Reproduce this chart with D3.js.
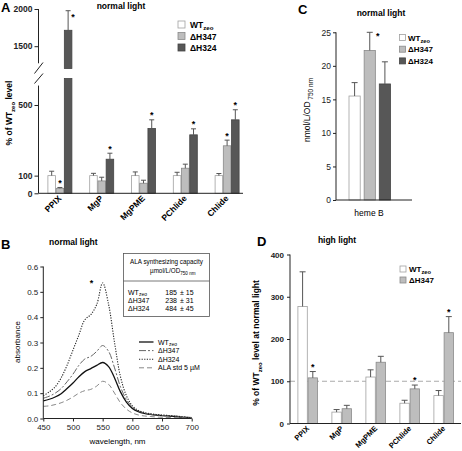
<!DOCTYPE html>
<html><head><meta charset="utf-8">
<script src="https://cdn.jsdelivr.net/npm/d3@7"></script>
<style>
body{margin:0;background:#fff}
svg{font-family:"Liberation Sans",Arial,Helvetica,sans-serif}
</style>
</head><body>
<svg id="fig" width="462" height="451"></svg>
<script>
// ---------- DATA ----------
const pigments = ["PPIX","MgP","MgPME","PChlide","Chlide"];
const strains = ["WT","ΔH347","ΔH324"];
// Panel A: % of WTzeo level, normal light
const aWT      = [100,100,100,100,100];
const aWTErr   = [25,13,21,19,12];
const aH347    = [28,70,57,142,269];
const aH347Err = [5,21,17,23,32];
const aH324    = [1714,193,367,331,416];
const aH324Err = [263,34,49,34,57];
const aH347Sig = [true,false,false,false,true];
const aH324Sig = [true,true,true,true,true];
const aTicksLow = [0,100,500];
const aTicksHigh = [1500,2000];
// Panel C: heme B nmol/L/OD750
const cCategory = ["heme B"];
const cValues = [15.5,22.3,17.3];
const cErr    = [2.0,2.7,3.3];
const cSig    = [false,true,false];
const cTicks  = [0,5,10,15,20,25];
// Panel B: absorbance spectra
const wavelengths = [450,460,470,480,490,500,510,520,530,540,550,560,570,580,590,600,610,620,630,640,650,660,670,680,690,700];
const bWT   = [0.070,0.076,0.085,0.098,0.118,0.140,0.165,0.185,0.197,0.210,0.221,0.205,0.160,0.105,0.065,0.040,0.027,0.020,0.016,0.013,0.011,0.010,0.008,0.006,0.004,0.003];
const bH347 = [0.080,0.088,0.100,0.118,0.145,0.175,0.210,0.235,0.245,0.265,0.288,0.265,0.200,0.125,0.075,0.045,0.030,0.022,0.017,0.014,0.012,0.011,0.010,0.008,0.006,0.004];
const bH324 = [0.090,0.105,0.125,0.160,0.210,0.270,0.330,0.390,0.410,0.450,0.535,0.450,0.300,0.165,0.090,0.050,0.032,0.024,0.019,0.016,0.014,0.012,0.010,0.008,0.005,0.003];
const bALA  = [0.048,0.050,0.055,0.062,0.072,0.085,0.100,0.110,0.115,0.128,0.147,0.135,0.100,0.062,0.037,0.022,0.014,0.010,0.008,0.006,0.005,0.004,0.004,0.003,0.002,0.002];
const bXTicks = [450,500,550,600,650,700];
const bYTicks = [0,0.1,0.2,0.3,0.4,0.5,0.6];
const tableNames = ["WT","ΔH347","ΔH324"];
const tableValues = [185,238,484];
const tableErr = [15,31,45];
// Panel D: % of WTzeo at normal light, high light
const dWT      = [277,27,110,48,66];
const dWTErr   = [82,6,17,7,12];
const dH347    = [108,35,145,82,215];
const dH347Err = [15,8,14,9,38];
const dH347Sig = [true,false,false,true,true];
const dTicks   = [0,100,200,300,400];

// ---------- STYLE ----------
const fills   = {"WT":"#ffffff","ΔH347":"#bdbdbd","ΔH324":"#575757"};
const strokes = {"WT":"#a0a0a0","ΔH347":"#8a8a8a","ΔH324":"#444"};
const ink = "#222";

const svg = d3.select("#fig");

function wtText(sel, size){
  sel.append("tspan").text("WT");
  sel.append("tspan").text("zeo").attr("font-size", size*0.72).attr("dy", size*0.25);
}
function strainLabel(sel, s, size){
  if (s === "WT") wtText(sel, size); else sel.text(s);
}
function styleAxis(g, bold, fs){
  g.selectAll(".domain").remove();
  g.selectAll(".tick line").attr("stroke", ink);
  g.selectAll(".tick text").attr("font-size", fs).attr("font-weight", bold?"bold":"normal").attr("fill", ink);
}

// =============== PANEL A ===============
{
  const yLow  = d3.scaleLinear().domain([0,650]).range([193.3,78.5]);
  const yHigh = d3.scaleLinear().domain([1200,2000]).range([68.5,9]);
  const yA = v => v <= 650 ? yLow(v) : yHigh(v);
  const x0 = d3.scaleBand().domain(pigments).range([39,248]);
  const x1 = d3.scaleBand().domain(strains).range([-12,12]).paddingInner(0.08);
  const series = {"WT":[aWT,aWTErr,pigments.map(()=>false)],"ΔH347":[aH347,aH347Err,aH347Sig],"ΔH324":[aH324,aH324Err,aH324Sig]};
  const g = svg.append("g");

  svg.append("text").attr("x",1).attr("y",12).attr("font-size",13).attr("font-weight","bold").text("A");
  svg.append("text").attr("x",121).attr("y",9).attr("text-anchor","middle").attr("font-size",8.5).attr("font-weight","bold").text("normal light");

  // bars
  strains.forEach(s=>{
    const [vals, errs, sig] = series[s];
    pigments.forEach((p,i)=>{
      const cx = x0(p) + x0.bandwidth()/2 + x1(s);
      const w = x1.bandwidth();
      const v = vals[i];
      if (v > 650) {
        g.append("rect").attr("x",cx).attr("y",yLow(650)).attr("width",w).attr("height",yLow(0)-yLow(650))
          .attr("fill",fills[s]).attr("stroke",strokes[s]).attr("stroke-width",0.8);
        g.append("rect").attr("x",cx).attr("y",yHigh(v)).attr("width",w).attr("height",yHigh(1200)-yHigh(v))
          .attr("fill",fills[s]).attr("stroke",strokes[s]).attr("stroke-width",0.8);
      } else {
        g.append("rect").attr("x",cx).attr("y",yLow(v)).attr("width",w).attr("height",yLow(0)-yLow(v))
          .attr("fill",fills[s]).attr("stroke",strokes[s]).attr("stroke-width",0.8);
      }
      const mid = cx + w/2, top = yA(v+errs[i]);
      g.append("line").attr("x1",mid).attr("x2",mid).attr("y1",yA(v)).attr("y2",top).attr("stroke","#555");
      g.append("line").attr("x1",mid-2.5).attr("x2",mid+2.5).attr("y1",top).attr("y2",top).attr("stroke","#555");
      if (sig[i]) {
        const sx = v > 650 ? mid + 5 : mid;
        const sy = v > 650 ? top + 9 : top - 1.5;
        g.append("text").attr("x",sx).attr("y",sy).attr("text-anchor","middle").attr("font-size",9).attr("font-weight","bold").text("*");
      }
    });
  });

  // y axis
  const axL = svg.append("g").attr("transform","translate(38.5,0)").call(d3.axisLeft(yLow).tickValues(aTicksLow).tickSize(4).tickPadding(2).tickFormat(d3.format("d")));
  styleAxis(axL, true, 8.5);
  const axH = svg.append("g").attr("transform","translate(38.5,0)").call(d3.axisLeft(yHigh).tickValues(aTicksHigh).tickSize(4).tickPadding(2).tickFormat(d3.format("d")));
  styleAxis(axH, true, 8.5);
  svg.append("line").attr("x1",38.5).attr("x2",38.5).attr("y1",yLow(0)).attr("y2",yLow(610)).attr("stroke",ink);
  svg.append("line").attr("x1",38.5).attr("x2",38.5).attr("y1",yHigh(1270)).attr("y2",yHigh(2000)).attr("stroke",ink);
  // break marks
  svg.append("line").attr("x1",34.5).attr("y1",yHigh(1200)+5).attr("x2",43).attr("y2",yHigh(1200)-6).attr("stroke",ink);
  svg.append("line").attr("x1",34.5).attr("y1",yLow(650)+5).attr("x2",43).attr("y2",yLow(650)-5).attr("stroke",ink);
  // x axis
  svg.append("line").attr("x1",38.5).attr("x2",243).attr("y1",193.3).attr("y2",193.3).attr("stroke",ink);
  pigments.forEach(p=>{
    const cx = x0(p)+x0.bandwidth()/2+2;
    svg.append("text").attr("transform",`translate(${cx},199) rotate(-45)`).attr("text-anchor","end")
      .attr("font-size",8.5).attr("font-weight","bold").text(p);
  });
  // y label
  const yl = svg.append("text").attr("transform","translate(12,113) rotate(-90)").attr("text-anchor","middle").attr("font-size",8.5).attr("font-weight","bold");
  yl.append("tspan").text("% of WT");
  yl.append("tspan").text("zeo").attr("font-size",6).attr("dy",2.5);
  yl.append("tspan").text(" level").attr("dy",-2.5);
  // legend
  strains.forEach((s,i)=>{
    const yy = 21 + i*11.5;
    svg.append("rect").attr("x",178).attr("y",yy).attr("width",7).attr("height",7).attr("fill",fills[s]).attr("stroke",strokes[s]).attr("stroke-width",0.8);
    const t = svg.append("text").attr("x",190).attr("y",yy+7).attr("font-size",8.5).attr("font-weight","bold");
    strainLabel(t, s, 8.5);
  });
}

// =============== PANEL C ===============
{
  const y = d3.scaleLinear().domain([0,25]).range([200,32.3]);
  const x0 = d3.scaleBand().domain(cCategory).range([336,412]);
  const x1 = d3.scaleBand().domain(strains).range([349,390.5]).paddingInner(0.26);
  svg.append("text").attr("x",298).attr("y",14).attr("font-size",13).attr("font-weight","bold").text("C");
  svg.append("text").attr("x",381).attr("y",16).attr("text-anchor","middle").attr("font-size",8.5).attr("font-weight","bold").text("normal light");
  strains.forEach((s,i)=>{
    const bx = x1(s), w = x1.bandwidth();
    svg.append("rect").attr("x",bx).attr("y",y(cValues[i])).attr("width",w).attr("height",y(0)-y(cValues[i]))
      .attr("fill",fills[s]).attr("stroke",strokes[s]).attr("stroke-width",0.8);
    const mid = bx + w/2, top = y(cValues[i]+cErr[i]);
    svg.append("line").attr("x1",mid).attr("x2",mid).attr("y1",y(cValues[i])).attr("y2",top).attr("stroke","#555");
    svg.append("line").attr("x1",mid-3).attr("x2",mid+3).attr("y1",top).attr("y2",top).attr("stroke","#555");
    if (cSig[i]) svg.append("text").attr("x",mid+8).attr("y",top+7).attr("text-anchor","middle").attr("font-size",9).attr("font-weight","bold").text("*");
  });
  const ax = svg.append("g").attr("transform","translate(336,0)").call(d3.axisLeft(y).tickValues(cTicks).tickSize(3).tickPadding(2));
  styleAxis(ax, false, 8.5);
  svg.append("line").attr("x1",336).attr("x2",336).attr("y1",200).attr("y2",32.3).attr("stroke",ink);
  svg.append("line").attr("x1",336).attr("x2",412).attr("y1",200).attr("y2",200).attr("stroke",ink);
  svg.append("text").attr("x",x0(cCategory[0])+x0.bandwidth()/2-5).attr("y",216).attr("text-anchor","middle").attr("font-size",8.5).text(cCategory[0]);
  const yl = svg.append("text").attr("transform","translate(310,110) rotate(-90)").attr("text-anchor","middle").attr("font-size",8.5);
  yl.append("tspan").text("nmol/L/OD");
  yl.append("tspan").text(" 750 nm").attr("font-size",6.5).attr("dy",2.5);
  strains.forEach((s,i)=>{
    const yy = 34.5 + i*11.7;
    svg.append("rect").attr("x",399.5).attr("y",yy).attr("width",6).attr("height",6).attr("fill",fills[s]).attr("stroke",strokes[s]).attr("stroke-width",0.8);
    const t = svg.append("text").attr("x",408).attr("y",yy+6).attr("font-size",8).attr("font-weight","bold");
    strainLabel(t, s, 8);
  });
}

// =============== PANEL B ===============
{
  const x = d3.scaleLinear().domain([450,700]).range([43.3,191.7]);
  const y = d3.scaleLinear().domain([0,0.6]).range([418.5,266.5]);
  svg.append("text").attr("x",1).attr("y",249).attr("font-size",13).attr("font-weight","bold").text("B");
  svg.append("text").attr("x",49).attr("y",245).attr("font-size",8.5).attr("font-weight","bold").text("normal light");
  const curves = [
    {name:"WT", vals:bWT, color:"#111", dash:null, w:1.3},
    {name:"ΔH347", vals:bH347, color:"#666", dash:"7,2,2,2", w:1},
    {name:"ΔH324", vals:bH324, color:"#222", dash:"1.2,1.4", w:1.1},
    {name:"ALA std 5 µM", vals:bALA, color:"#888", dash:"5,3", w:1}
  ];
  const line = d3.line().x((d,i)=>x(wavelengths[i])).y(d=>y(d)).curve(d3.curveCatmullRom.alpha(0.5));
  curves.forEach(c=>{
    svg.append("path").attr("d",line(c.vals)).attr("fill","none").attr("stroke",c.color).attr("stroke-width",c.w)
      .attr("stroke-dasharray",c.dash);
  });
  svg.append("text").attr("x",91.5).attr("y",286).attr("text-anchor","middle").attr("font-size",9).attr("font-weight","bold").text("*");
  const ay = svg.append("g").attr("transform","translate(43.3,0)").call(d3.axisLeft(y).tickValues(bYTicks).tickSize(3).tickPadding(2).tickFormat(d3.format(".1f")));
  styleAxis(ay, false, 8);
  const axx = svg.append("g").attr("transform","translate(0,418.5)").call(d3.axisBottom(x).tickValues(bXTicks).tickSize(3).tickPadding(3));
  styleAxis(axx, false, 8);
  svg.append("line").attr("x1",43.3).attr("x2",43.3).attr("y1",418.5).attr("y2",266.5).attr("stroke",ink);
  svg.append("line").attr("x1",43.3).attr("x2",191.7).attr("y1",418.5).attr("y2",418.5).attr("stroke",ink);
  svg.append("text").attr("transform","translate(20,342) rotate(-90)").attr("text-anchor","middle").attr("font-size",8).text("absorbance");
  svg.append("text").attr("x",117.5).attr("y",444).attr("text-anchor","middle").attr("font-size",8).text("wavelength, nm");
  // legend
  curves.forEach((c,i)=>{
    const yy = 342 + i*8.6;
    svg.append("line").attr("x1",139).attr("x2",153.5).attr("y1",yy).attr("y2",yy).attr("stroke",c.color).attr("stroke-width",c.w).attr("stroke-dasharray",c.dash);
    const t = svg.append("text").attr("x",158).attr("y",yy+2.5).attr("font-size",7);
    strainLabel(t, c.name, 7);
  });
  // inset table
  svg.append("rect").attr("x",123.5).attr("y",253.5).attr("width",86).attr("height",63).attr("fill","#fff").attr("stroke","#555").attr("stroke-width",0.8);
  svg.append("line").attr("x1",123.5).attr("x2",209.5).attr("y1",281).attr("y2",281).attr("stroke","#555").attr("stroke-width",0.8);
  svg.append("text").attr("x",166.5).attr("y",264).attr("text-anchor","middle").attr("font-size",6.3).text("ALA synthesizing capacity");
  const u = svg.append("text").attr("x",150).attr("y",273).attr("font-size",6.3);
  u.append("tspan").text("µmol/L/OD");
  u.append("tspan").text("750 nm").attr("font-size",4.6).attr("dy",1.8);
  tableNames.forEach((n,i)=>{
    const yy = 294.5 + i*8;
    const t = svg.append("text").attr("x",128).attr("y",yy).attr("font-size",7);
    strainLabel(t, n, 7);
    svg.append("text").attr("x",177).attr("y",yy).attr("text-anchor","end").attr("font-size",7).text(tableValues[i]);
    svg.append("text").attr("x",180).attr("y",yy).attr("font-size",7).text("± " + tableErr[i]);
  });
}

// =============== PANEL D ===============
{
  const y = d3.scaleLinear().domain([0,400]).range([423.5,254.5]);
  const x0 = d3.scaleBand().domain(pigments).range([290.7,460.7]);
  const dStrains = ["WT","ΔH347"];
  const x1 = d3.scaleBand().domain(dStrains).range([-9.8,9.8]).paddingInner(0.08);
  const series = {"WT":[dWT,dWTErr,pigments.map(()=>false)],"ΔH347":[dH347,dH347Err,dH347Sig]};
  svg.append("text").attr("x",257).attr("y",246).attr("font-size",13).attr("font-weight","bold").text("D");
  svg.append("text").attr("x",337).attr("y",243).attr("text-anchor","middle").attr("font-size",8.5).attr("font-weight","bold").text("high light");
  // reference line
  svg.append("line").attr("x1",290).attr("x2",461).attr("y1",y(100)).attr("y2",y(100)).attr("stroke","#aaa").attr("stroke-dasharray","5,3");
  dStrains.forEach(s=>{
    const [vals, errs, sig] = series[s];
    pigments.forEach((p,i)=>{
      const bx = x0(p)+x0.bandwidth()/2+x1(s), w = x1.bandwidth(), v = vals[i];
      svg.append("rect").attr("x",bx).attr("y",y(v)).attr("width",w).attr("height",y(0)-y(v))
        .attr("fill",fills[s]).attr("stroke",strokes[s]).attr("stroke-width",0.8);
      const mid = bx+w/2, top = y(v+errs[i]);
      svg.append("line").attr("x1",mid).attr("x2",mid).attr("y1",y(v)).attr("y2",top).attr("stroke","#555");
      svg.append("line").attr("x1",mid-3).attr("x2",mid+3).attr("y1",top).attr("y2",top).attr("stroke","#555");
      if (sig[i]) svg.append("text").attr("x",mid).attr("y",top-2).attr("text-anchor","middle").attr("font-size",9).attr("font-weight","bold").text("*");
    });
  });
  const ax = svg.append("g").attr("transform","translate(290,0)").call(d3.axisLeft(y).tickValues(dTicks).tickSize(3).tickPadding(3));
  styleAxis(ax, true, 8);
  svg.append("line").attr("x1",290).attr("x2",290).attr("y1",423.5).attr("y2",254.5).attr("stroke",ink);
  svg.append("line").attr("x1",290).attr("x2",461).attr("y1",423.5).attr("y2",423.5).attr("stroke",ink);
  pigments.forEach(p=>{
    const cx = x0(p)+x0.bandwidth()/2+2;
    svg.append("text").attr("transform",`translate(${cx},429) rotate(-45)`).attr("text-anchor","end")
      .attr("font-size",7.5).attr("font-weight","bold").text(p);
  });
  const yl = svg.append("text").attr("transform","translate(259,343) rotate(-90)").attr("text-anchor","middle").attr("font-size",8.5).attr("font-weight","bold");
  yl.append("tspan").text("% of WT");
  yl.append("tspan").text("zeo").attr("font-size",6).attr("dy",2.5);
  yl.append("tspan").text(" level at normal light").attr("dy",-2.5);
  dStrains.forEach((s,i)=>{
    const yy = 266 + i*11;
    svg.append("rect").attr("x",400).attr("y",yy).attr("width",6).attr("height",6).attr("fill",fills[s]).attr("stroke",strokes[s]).attr("stroke-width",0.8);
    const t = svg.append("text").attr("x",409).attr("y",yy+6).attr("font-size",8).attr("font-weight","bold");
    strainLabel(t, s, 8);
  });
}
</script>
</body></html>
